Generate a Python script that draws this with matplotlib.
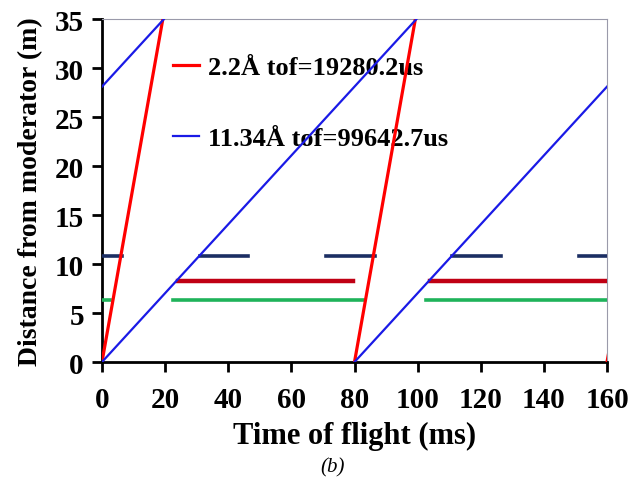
import matplotlib.pyplot as plt

plt.rcParams['font.family'] = ['Liberation Serif', 'DejaVu Serif']
plt.rcParams['font.weight'] = 'bold'

# neutron trajectories (time ms, distance m)
red_t = [[0, 19.28], [80, 99.28], [160, 179.28]]
red_d = [[0, 35], [0, 35], [0, 35]]
blue_t = [[0, 19.64], [0, 99.64], [80, 160]]
blue_d = [[28.1, 35], [0, 35], [0, 28.1]]

# chopper closed segments
navy_y = 10.85
navy_segs = [[0, 6.3], [31, 46.3], [71, 86.5], [111, 126.5], [151, 160]]
dred_y = 8.3
dred_segs = [[24.2, 79.5], [104, 160]]
green_y = 6.35
green_segs = [[0, 2.6], [22.4, 82.7], [102.6, 160]]

xticks = [0, 20, 40, 60, 80, 100, 120, 140, 160]
yticks = [0, 5, 10, 15, 20, 25, 30, 35]

fig = plt.figure(figsize=(6.28, 4.81), dpi=100)
ax = fig.add_axes([0.1624, 0.2453, 0.8042, 0.7131])

for a, b in navy_segs:
    ax.plot([a, b], [navy_y, navy_y], color='#1b2e63', lw=2.6, zorder=3)
for a, b in dred_segs:
    ax.plot([a, b], [dred_y, dred_y], color='#c00014', lw=3.2, zorder=3)
for a, b in green_segs:
    ax.plot([a, b], [green_y, green_y], color='#1fb35a', lw=2.6, zorder=3)

for i in range(len(red_t)):
    ax.plot(red_t[i], red_d[i], color='#ff0000', lw=2.3, zorder=6,
            label='2.2Å tof=19280.2us' if i == 0 else None)
for i in range(len(blue_t)):
    ax.plot(blue_t[i], blue_d[i], color='#1a1ae6', lw=1.6, zorder=6,
            label='11.34Å tof=99642.7us' if i == 0 else None)

ax.set_xlim(0, 160)
ax.set_ylim(0, 35)
ax.set_xticks(xticks)
ax.set_yticks(yticks)
ax.tick_params(labelsize=21, width=2, length=7, direction='out')
ax.tick_params(axis='x', pad=10)
ax.tick_params(axis='y', pad=6)
for s in ['left', 'bottom']:
    ax.spines[s].set_linewidth(2)
for s in ['top', 'right']:
    ax.spines[s].set_color('#9a9aaa')
    ax.spines[s].set_linewidth(0.8)

ax.set_xlabel('Time of flight (ms)', fontsize=22, fontweight='bold', labelpad=6)
ax.set_ylabel('Distance from moderator (m)', fontsize=20, fontweight='bold', labelpad=8)

leg = ax.legend(loc='upper left', bbox_to_anchor=(0.14, 0.893), frameon=False,
                fontsize=19, handlelength=1.0, handletextpad=0.35,
                labelspacing=1.8, borderpad=0, borderaxespad=0)
leg.set_zorder(4)

fig.text(0.53, 0.008, '(b)', fontsize=15, style='italic', fontweight='normal',
         ha='center', va='bottom')

fig.savefig('out.png', dpi=100)
